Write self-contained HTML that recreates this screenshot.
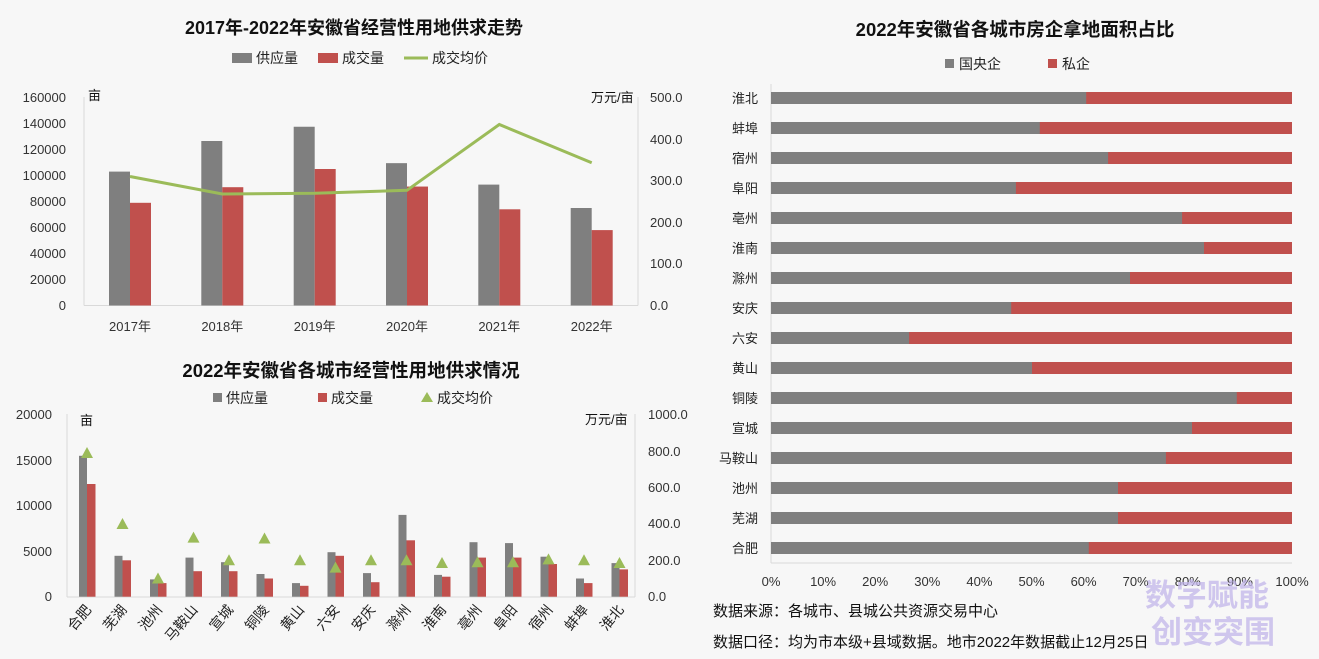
<!DOCTYPE html>
<html><head><meta charset="utf-8"><style>
html,body{margin:0;padding:0;background:#f7f7f7;}
svg{display:block;font-family:"Liberation Sans","Noto Sans CJK SC",sans-serif;}
</style></head><body>
<svg width="1319" height="659" viewBox="0 0 1319 659">
<rect width="1319" height="659" fill="#f7f7f7"/>
<!-- TOP LEFT -->
<text x="354" y="34" font-size="18" font-weight="bold" text-anchor="middle" fill="#111">2017年-2022年安徽省经营性用地供求走势</text>
<rect x="232" y="53" width="20" height="10" fill="#7f7f7f"/><text x="256" y="63" font-size="14" fill="#222">供应量</text>
<rect x="318" y="53" width="20" height="10" fill="#c0504d"/><text x="342" y="63" font-size="14" fill="#222">成交量</text>
<line x1="404" y1="58" x2="428" y2="58" stroke="#9bbb59" stroke-width="3"/><text x="432" y="63" font-size="14" fill="#222">成交均价</text>
<g stroke="#d9d9d9" stroke-width="1">
<line x1="84" y1="97" x2="84" y2="305.5"/><line x1="638" y1="97" x2="638" y2="305.5"/><line x1="84" y1="305.5" x2="638" y2="305.5"/>
</g>
<g font-size="13" fill="#333" text-anchor="end">
<text x="66" y="310">0</text><text x="66" y="284">20000</text><text x="66" y="258">40000</text><text x="66" y="232">60000</text><text x="66" y="206">80000</text><text x="66" y="180">100000</text><text x="66" y="154">120000</text><text x="66" y="128">140000</text><text x="66" y="102">160000</text>
</g>
<g font-size="13" fill="#333">
<text x="650" y="310">0.0</text><text x="650" y="268">100.0</text><text x="650" y="227">200.0</text><text x="650" y="185">300.0</text><text x="650" y="144">400.0</text><text x="650" y="102">500.0</text>
</g>
<text x="88" y="100" font-size="13" fill="#111">亩</text>
<text x="591" y="102" font-size="13" fill="#111">万元/亩</text>
<g transform="translate(0,305.5) scale(1,-1)">
<rect x="109" y="0" width="21" height="133.9" fill="#7f7f7f"/><rect x="130" y="0" width="21" height="102.7" fill="#c0504d"/>
<rect x="201.3" y="0" width="21" height="164.5" fill="#7f7f7f"/><rect x="222.3" y="0" width="21" height="118.3" fill="#c0504d"/>
<rect x="293.7" y="0" width="21" height="178.75" fill="#7f7f7f"/><rect x="314.7" y="0" width="21" height="136.5" fill="#c0504d"/>
<rect x="386" y="0" width="21" height="142.35" fill="#7f7f7f"/><rect x="407" y="0" width="21" height="118.95" fill="#c0504d"/>
<rect x="478.3" y="0" width="21" height="120.9" fill="#7f7f7f"/><rect x="499.3" y="0" width="21" height="96.2" fill="#c0504d"/>
<rect x="570.7" y="0" width="21" height="97.5" fill="#7f7f7f"/><rect x="591.7" y="0" width="21" height="75.4" fill="#c0504d"/>
</g>
<polyline points="130,176.5 222.3,194 314.7,193.2 407,190.3 499.3,124.5 591.7,162.8" fill="none" stroke="#9bbb59" stroke-width="3"/>
<g font-size="13" fill="#333" text-anchor="middle">
<text x="130" y="331">2017年</text><text x="222.3" y="331">2018年</text><text x="314.7" y="331">2019年</text><text x="407" y="331">2020年</text><text x="499.3" y="331">2021年</text><text x="591.7" y="331">2022年</text>
</g>
<!-- BOTTOM LEFT -->
<text x="351" y="377" font-size="18.5" font-weight="bold" text-anchor="middle" fill="#111">2022年安徽省各城市经营性用地供求情况</text>
<rect x="213" y="393" width="9" height="9" fill="#7f7f7f"/><text x="226" y="403" font-size="14" fill="#222">供应量</text>
<rect x="318" y="393" width="9" height="9" fill="#c0504d"/><text x="331" y="403" font-size="14" fill="#222">成交量</text>
<polygon points="427,392 433,402 421,402" fill="#9bbb59"/><text x="437" y="403" font-size="14" fill="#222">成交均价</text>
<g stroke="#d9d9d9"><line x1="67" y1="414" x2="67" y2="597"/><line x1="635" y1="414" x2="635" y2="597"/><line x1="67" y1="597" x2="635" y2="597"/></g>
<g font-size="13" fill="#333" text-anchor="end">
<text x="52" y="601">0</text><text x="52" y="556">5000</text><text x="52" y="510">10000</text><text x="52" y="465">15000</text><text x="52" y="419">20000</text>
</g>
<g font-size="13" fill="#333">
<text x="648" y="601">0.0</text><text x="648" y="565">200.0</text><text x="648" y="528">400.0</text><text x="648" y="492">600.0</text><text x="648" y="456">800.0</text><text x="648" y="419">1000.0</text>
</g>
<text x="80" y="425" font-size="13" fill="#111">亩</text>
<text x="585" y="424" font-size="13" fill="#111">万元/亩</text>
<g transform="translate(0,596.7) scale(1,-1)">
<g fill="#7f7f7f">
<rect x="79" width="8" height="140.9"/><rect x="114.5" width="8" height="40.9"/><rect x="150" width="8" height="17.3"/><rect x="185.5" width="8" height="39.1"/><rect x="221" width="8" height="34.5"/><rect x="256.5" width="8" height="22.7"/><rect x="292" width="8" height="13.6"/><rect x="327.5" width="8" height="44.5"/><rect x="363" width="8" height="23.6"/><rect x="398.5" width="8" height="81.8"/><rect x="434" width="8" height="21.8"/><rect x="469.5" width="8" height="54.5"/><rect x="505" width="8" height="53.6"/><rect x="540.5" width="8" height="40"/><rect x="576" width="8" height="18.2"/><rect x="611.5" width="8" height="33.6"/>
</g>
<g fill="#c0504d">
<rect x="87" width="8.5" height="112.7"/><rect x="122.5" width="8.5" height="36.4"/><rect x="158" width="8.5" height="13.6"/><rect x="193.5" width="8.5" height="25.5"/><rect x="229" width="8.5" height="25.5"/><rect x="264.5" width="8.5" height="18.2"/><rect x="300" width="8.5" height="10.9"/><rect x="335.5" width="8.5" height="40.9"/><rect x="371" width="8.5" height="14.5"/><rect x="406.5" width="8.5" height="56.4"/><rect x="442" width="8.5" height="20"/><rect x="477.5" width="8.5" height="39.1"/><rect x="513" width="8.5" height="39.1"/><rect x="548.5" width="8.5" height="32.7"/><rect x="584" width="8.5" height="13.6"/><rect x="619.5" width="8.5" height="27.3"/>
</g>
</g>
<g fill="#9bbb59">
<polygon points="87,447 93,458 81,458"/><polygon points="122.5,518 128.5,529 116.5,529"/><polygon points="158,572.5 164,583.5 152,583.5"/><polygon points="193.5,531.6 199.5,542.6 187.5,542.6"/><polygon points="229,554.3 235,565.3 223,565.3"/><polygon points="264.5,532.5 270.5,543.5 258.5,543.5"/><polygon points="300,554.3 306,565.3 294,565.3"/><polygon points="335.5,561.6 341.5,572.6 329.5,572.6"/><polygon points="371,554.3 377,565.3 365,565.3"/><polygon points="406.5,554.3 412.5,565.3 400.5,565.3"/><polygon points="442,557 448,568 436,568"/><polygon points="477.5,556.2 483.5,567.2 471.5,567.2"/><polygon points="513,556.2 519,567.2 507,567.2"/><polygon points="548.5,553.4 554.5,564.4 542.5,564.4"/><polygon points="584,554.3 590,565.3 578,565.3"/><polygon points="619.5,557 625.5,568 613.5,568"/>
</g>
<g font-size="14" fill="#222" text-anchor="end">
<text transform="translate(92,610) rotate(-50)">合肥</text><text transform="translate(127.5,610) rotate(-50)">芜湖</text><text transform="translate(163,610) rotate(-50)">池州</text><text transform="translate(198.5,610) rotate(-50)">马鞍山</text><text transform="translate(234,610) rotate(-50)">宣城</text><text transform="translate(269.5,610) rotate(-50)">铜陵</text><text transform="translate(305,610) rotate(-50)">黄山</text><text transform="translate(340.5,610) rotate(-50)">六安</text><text transform="translate(376,610) rotate(-50)">安庆</text><text transform="translate(411.5,610) rotate(-50)">滁州</text><text transform="translate(447,610) rotate(-50)">淮南</text><text transform="translate(482.5,610) rotate(-50)">亳州</text><text transform="translate(518,610) rotate(-50)">阜阳</text><text transform="translate(553.5,610) rotate(-50)">宿州</text><text transform="translate(589,610) rotate(-50)">蚌埠</text><text transform="translate(624.5,610) rotate(-50)">淮北</text>
</g>
<!-- RIGHT -->
<text x="1015" y="36" font-size="18.5" font-weight="bold" text-anchor="middle" fill="#111">2022年安徽省各城市房企拿地面积占比</text>
<rect x="945" y="59" width="9" height="9" fill="#7f7f7f"/><text x="959" y="69" font-size="14" fill="#222">国央企</text>
<rect x="1048" y="59" width="9" height="9" fill="#c0504d"/><text x="1062" y="69" font-size="14" fill="#222">私企</text>
<g stroke="#d9d9d9"><line x1="771" y1="84" x2="771" y2="563"/><line x1="771" y1="563" x2="1292" y2="563"/></g>
<g fill="#c0504d">
<rect x="771" y="92" width="521" height="12"/><rect x="771" y="122" width="521" height="12"/><rect x="771" y="152" width="521" height="12"/><rect x="771" y="182" width="521" height="12"/><rect x="771" y="212" width="521" height="12"/><rect x="771" y="242" width="521" height="12"/><rect x="771" y="272" width="521" height="12"/><rect x="771" y="302" width="521" height="12"/><rect x="771" y="332" width="521" height="12"/><rect x="771" y="362" width="521" height="12"/><rect x="771" y="392" width="521" height="12"/><rect x="771" y="422" width="521" height="12"/><rect x="771" y="452" width="521" height="12"/><rect x="771" y="482" width="521" height="12"/><rect x="771" y="512" width="521" height="12"/><rect x="771" y="542" width="521" height="12"/>
</g>
<g fill="#7f7f7f">
<rect x="771" y="92" width="315.2" height="12"/><rect x="771" y="122" width="268.8" height="12"/><rect x="771" y="152" width="337.1" height="12"/><rect x="771" y="182" width="244.9" height="12"/><rect x="771" y="212" width="411.1" height="12"/><rect x="771" y="242" width="433" height="12"/><rect x="771" y="272" width="359" height="12"/><rect x="771" y="302" width="240.2" height="12"/><rect x="771" y="332" width="138.1" height="12"/><rect x="771" y="362" width="261" height="12"/><rect x="771" y="392" width="465.8" height="12"/><rect x="771" y="422" width="421" height="12"/><rect x="771" y="452" width="394.9" height="12"/><rect x="771" y="482" width="347" height="12"/><rect x="771" y="512" width="347" height="12"/><rect x="771" y="542" width="317.8" height="12"/>
</g>
<g font-size="13" fill="#222" text-anchor="end">
<text x="758" y="103">淮北</text><text x="758" y="133">蚌埠</text><text x="758" y="163">宿州</text><text x="758" y="193">阜阳</text><text x="758" y="223">亳州</text><text x="758" y="253">淮南</text><text x="758" y="283">滁州</text><text x="758" y="313">安庆</text><text x="758" y="343">六安</text><text x="758" y="373">黄山</text><text x="758" y="403">铜陵</text><text x="758" y="433">宣城</text><text x="758" y="463">马鞍山</text><text x="758" y="493">池州</text><text x="758" y="523">芜湖</text><text x="758" y="553">合肥</text>
</g>
<g font-size="13" fill="#333" text-anchor="middle">
<text x="771" y="586">0%</text><text x="823.1" y="586">10%</text><text x="875.2" y="586">20%</text><text x="927.3" y="586">30%</text><text x="979.4" y="586">40%</text><text x="1031.5" y="586">50%</text><text x="1083.6" y="586">60%</text><text x="1135.7" y="586">70%</text><text x="1187.8" y="586">80%</text><text x="1239.9" y="586">90%</text><text x="1292" y="586">100%</text>
</g>
<text x="713" y="616" font-size="15" fill="#111">数据来源：各城市、县城公共资源交易中心</text>
<text x="713" y="647" font-size="15" fill="#111">数据口径：均为市本级+县域数据。地市2022年数据截止12月25日</text>
<g font-size="31" font-weight="bold" fill="#c2b6ea" opacity="0.75">
<text x="1145" y="606">数字赋能</text><text x="1151" y="643">创变突围</text>
</g>
</svg>
</body></html>
